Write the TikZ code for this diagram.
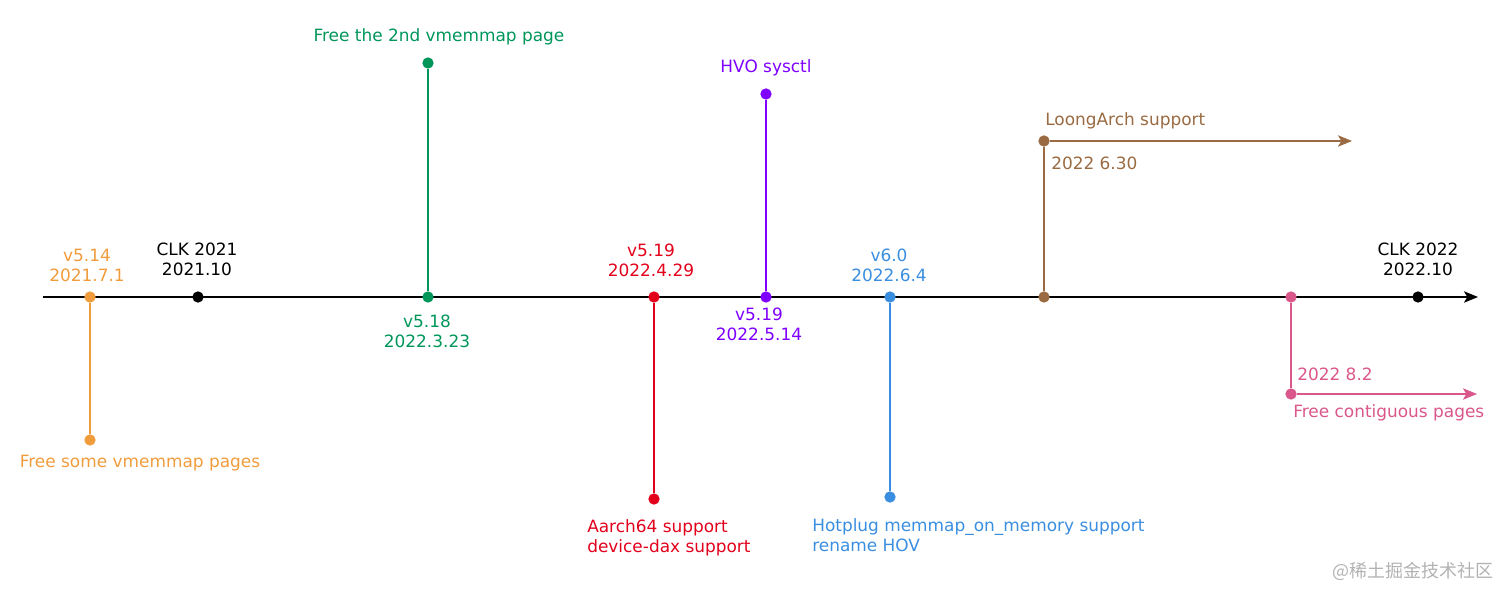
\documentclass[tikz,border=0pt]{standalone}
\usepackage{fontspec}
\setmainfont{DejaVu Sans}
\newfontfamily\cjkfont{Noto Sans CJK SC}
\usetikzlibrary{arrows.meta}
\definecolor{korange}{HTML}{F19C3C}
\definecolor{kgreen}{HTML}{00965A}
\definecolor{kred}{HTML}{E3001B}
\definecolor{kpurple}{HTML}{7F00FF}
\definecolor{kblue}{HTML}{3A8EE0}
\definecolor{kbrown}{HTML}{9A6B42}
\definecolor{kpink}{HTML}{D9578A}
\tikzset{
  dot/.style={circle, fill=#1, inner sep=0pt, minimum size=8.5pt},
  stem/.style={draw=#1, line width=1.3pt},
  lbl/.style={text=#1, font=\fontsize{12.7}{15}\selectfont, align=center, inner sep=0pt},
  lbll/.style={lbl=#1, anchor=west, align=left},
  tip/.style={-{Stealth[length=10.5pt, width=8.5pt, inset=2.5pt]}},
}
\begin{document}
\begin{tikzpicture}[x=0.75pt, y=-0.75pt]
  \useasboundingbox (0,0) rectangle (1512,599);
  % time axis
  \coordinate (start) at (43,297);
  \coordinate (end) at (1478,297);
  \draw[line width=1.3pt, tip] (start) -- (end);
  % events on the axis
  \foreach \n/\x/\c in {a/90/korange, b/198/black, c/428/kgreen, d/654/kred, e/766/kpurple, f/890/kblue, g/1044/kbrown, h/1291/kpink, i/1418/black}
    { \node[dot=\c] (\n0) at (\x,297) {}; }
  % stem ends
  \node[dot=korange] (a1) at (90,440) {};
  \node[dot=kgreen] (c1) at (428,63) {};
  \node[dot=kred] (d1) at (654,499) {};
  \node[dot=kpurple] (e1) at (766,94) {};
  \node[dot=kblue] (f1) at (890,497) {};
  \node[dot=kbrown] (g1) at (1044,141) {};
  \node[dot=kpink] (h1) at (1291,394) {};
  \coordinate (g2) at (1352,141);
  \coordinate (h2) at (1477,394);
  \draw[stem=korange] (a0) -- (a1);
  \draw[stem=kgreen] (c0) -- (c1);
  \draw[stem=kred] (d0) -- (d1);
  \draw[stem=kpurple] (e0) -- (e1);
  \draw[stem=kblue] (f0) -- (f1);
  \draw[stem=kbrown] (g0) -- (g1);
  \draw[stem=kbrown, tip] (g1) -- (g2);
  \draw[stem=kpink] (h0) -- (h1);
  \draw[stem=kpink, tip] (h1) -- (h2);
  % labels
  \node[lbl=korange] (ta) at (87,265) {v5.14\\2021.7.1};
  \node[lbl=korange] (ua) at (140,463) {Free some vmemmap pages};
  \node[lbl=black] (tb) at (197,259) {CLK 2021\\2021.10};
  \node[lbl=kgreen] (tc) at (427,331) {v5.18\\2022.3.23};
  \node[lbl=kgreen] (uc) at (439,37) {Free the 2nd vmemmap page};
  \node[lbl=kred] (td) at (651,260) {v5.19\\2022.4.29};
  \node[lbll=kred] (ud) at (587,538) {Aarch64 support\\device-dax support};
  \node[lbl=kpurple] (te) at (759,324) {v5.19\\2022.5.14};
  \node[lbl=kpurple] (ue) at (766,68) {HVO sysctl};
  \node[lbl=kblue] (tf) at (889,265) {v6.0\\2022.6.4};
  \node[lbll=kblue] (uf) at (812,535) {Hotplug memmap\_on\_memory support\\rename HOV};
  \node[lbll=kbrown] (ug) at (1045,121) {LoongArch support};
  \node[lbll=kbrown] (tg) at (1051,163) {2022 6.30};
  \node[lbll=kpink] (th) at (1297,374) {2022 8.2};
  \node[lbll=kpink] (uh) at (1293,413) {Free contiguous pages};
  \node[lbl=black] (ti) at (1418,259) {CLK 2022\\2022.10};
  \node[text=black!30, font=\cjkfont\fontsize{13.5}{15}\selectfont, inner sep=0pt] (mark) at (1413,571) {@稀土掘金技术社区};
\end{tikzpicture}
\end{document}
